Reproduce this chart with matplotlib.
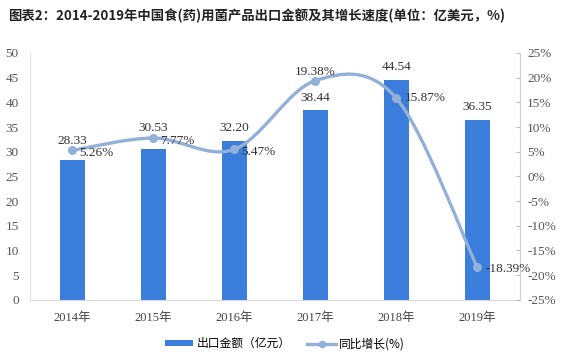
import numpy as np
import matplotlib
matplotlib.use("Agg")
from matplotlib import pyplot as plt
from matplotlib.path import Path
from matplotlib.patches import PathPatch, Patch
from matplotlib.lines import Line2D

# Data.
years = ["2014年", "2015年", "2016年", "2017年", "2018年", "2019年"]
export_value = [28.33, 30.53, 32.20, 38.44, 44.54, 36.35]
growth_pct = [5.26, 7.77, 5.47, 19.38, 15.87, -18.39]

title = "图表2：2014-2019年中国食(药)用菌产品出口金额及其增长速度(单位：亿美元，%)"
bar_name = "出口金额（亿元）"
line_name = "同比增长(%)"

bar_color = "#3b7ddb"
line_color = "#92b0d8"
num_font = ["Liberation Serif", "Noto Sans CJK SC"]
cjk_font = ["Noto Sans CJK SC", "DejaVu Sans"]

fig = plt.figure(figsize=(5.76, 3.6), dpi=100)
ax = fig.add_axes([0.052, 0.167, 0.851, 0.686])
ax2 = ax.twinx()

x = np.arange(len(years))
ax.bar(x, export_value, width=0.31, color=bar_color, zorder=2)

# Bar value labels (first two sit a bit higher, as in the original).
bar_offsets = [14, 15, 9, 9, 9.5, 9.5]
for xi, v, off in zip(x, export_value, bar_offsets):
    ax.annotate(f"{v:.2f}", (xi, v), xytext=(0, off), textcoords="offset points",
                ha="center", va="center", fontsize=9.5, family=num_font, color="#333333")

ax.set_xlim(-0.52, len(years) - 0.47)
ax.set_ylim(0, 50)
ax.set_yticks(np.arange(0, 51, 5))
ax.set_xticks(x)
ax.set_xticklabels(years, family=num_font, fontsize=9, color="#444444")
ax.tick_params(axis="x", length=0, pad=9)
ax.tick_params(axis="y", length=0, pad=8, labelsize=9.5, labelcolor="#555555")
for lab in ax.get_yticklabels():
    lab.set_family(num_font)
for s in ["top", "right"]:
    ax.spines[s].set_visible(False)
ax.spines["left"].set_color("#e4e4e4")
ax.spines["bottom"].set_color("#d9d9d9")

# Smoothed growth line (cubic Bezier through the points, like Excel smoothing).
pts = np.column_stack([x, growth_pct]).astype(float)
verts = [pts[0]]
codes = [Path.MOVETO]
n = len(pts)
for i in range(n - 1):
    p0 = pts[max(i - 1, 0)]
    p1 = pts[i]
    p2 = pts[i + 1]
    p3 = pts[min(i + 2, n - 1)]
    c1 = p1 + (p2 - p0) / 6
    c2 = p2 - (p3 - p1) / 6
    verts += [c1, c2, p2]
    codes += [Path.CURVE4] * 3
ax2.add_patch(PathPatch(Path(verts, codes), facecolor="none", edgecolor=line_color,
                        lw=2.4, capstyle="round", zorder=3))
ax2.plot(x, growth_pct, "o", color=line_color, ms=5.5, zorder=4)

# Growth labels.
line_offsets = [(5, -2, "left"), (5, -2, "left"), (5, -2, "left"),
                (0, 6, "center"), (6, 0, "left"), (6, -1, "left")]
for xi, g, (dx, dy, ha) in zip(x, growth_pct, line_offsets):
    ax2.annotate(f"{g:.2f}%", (xi, g), xytext=(dx, dy), textcoords="offset points",
                 ha=ha, va="center", fontsize=9.5, family=num_font, color="#333333")

ax2.set_ylim(-25, 25)
ax2.set_yticks(np.arange(-25, 26, 5))
ax2.set_yticklabels([f"{t}%" for t in range(-25, 26, 5)], family=num_font)
ax2.tick_params(axis="y", direction="in", length=3, color="#bbbbbb", pad=5,
                labelsize=9.5, labelcolor="#555555")
for s in ["top", "left", "bottom"]:
    ax2.spines[s].set_visible(False)
ax2.spines["right"].set_color("#d0d0d0")

fig.text(0.014, 0.955, title, fontsize=9.6, fontweight="bold", family=cjk_font,
         color="#222222", va="center")

handles = [Patch(facecolor=bar_color, edgecolor="none"),
           Line2D([0], [0], color=line_color, lw=2.4, marker="o", ms=4.5)]
fig.legend(handles, [bar_name, line_name], loc="center", bbox_to_anchor=(0.495, 0.045),
           ncol=2, frameon=False, prop={"family": cjk_font, "size": 8.5},
           handlelength=2.4, handleheight=0.45, columnspacing=1.4, handletextpad=0.3)

fig.savefig("out.png", dpi=100)
